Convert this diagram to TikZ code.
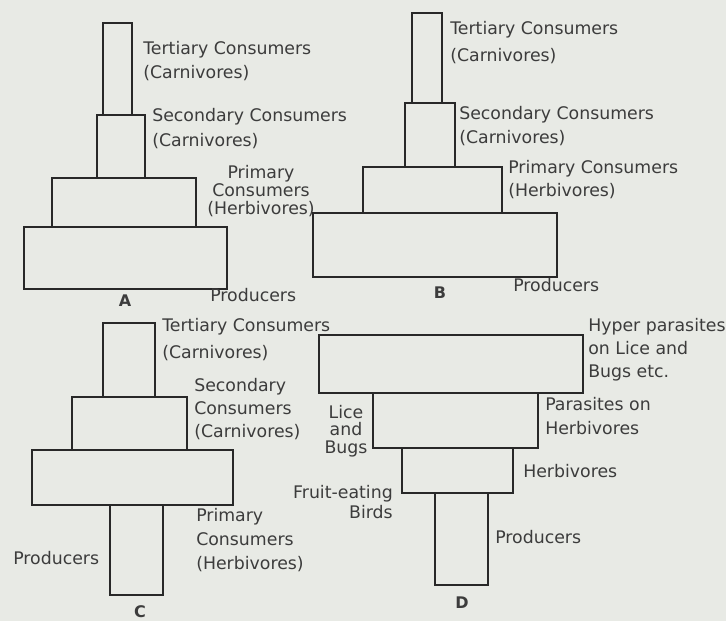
\documentclass[tikz,border=0pt]{standalone}
\usepackage{fontspec}
\setmainfont{DejaVu Sans}
\usetikzlibrary{fit}
\definecolor{paper}{RGB}{232,234,229}
\definecolor{ink}{RGB}{40,40,40}
\definecolor{txt}{RGB}{60,60,60}
\tikzset{
  pbox/.style={draw=ink, line width=1.8pt, inner sep=0pt, outer sep=0pt},
  lbl/.style={font=\fontsize{13}{#1}\selectfont, text=txt, inner sep=0pt, align=left},
  lbl/.default=18,
  tag/.style={font=\fontsize{12}{14}\selectfont\bfseries, text=txt, inner sep=0pt},
}
\begin{document}
\begin{tikzpicture}[x=0.75pt,y=-0.75pt]
\fill[paper] (0,0) rectangle (726,621);
\useasboundingbox (0,0) rectangle (726,621);

% ---------- A ----------
\node[pbox, fit={(103,23)(132,115)}] (a4) {};
\node[pbox, fit={(97,115)(145,178)}] (a3) {};
\node[pbox, fit={(52,178)(196,227)}] (a2) {};
\node[pbox, fit={(24,227)(227,289)}] (a1) {};
\node[lbl=18, anchor=north west] (la4) at (143,41) {Tertiary Consumers\\(Carnivores)};
\node[lbl=18.75, anchor=north west] (la3) at (152,108) {Secondary Consumers\\(Carnivores)};
\node[lbl=13.5, align=center, anchor=north] (la2) at (261,165) {Primary\\Consumers\\(Herbivores)};
\node[lbl, anchor=west] (la1) at (210,295) {Producers};
\node[tag] (ta) at (125,301) {A};

% ---------- B ----------
\node[pbox, fit={(412,13)(442,103)}] (b4) {};
\node[pbox, fit={(405,103)(455,167)}] (b3) {};
\node[pbox, fit={(363,167)(502,213)}] (b2) {};
\node[pbox, fit={(313,213)(557,277)}] (b1) {};
\node[lbl=20, anchor=north west] (lb4) at (450,21) {Tertiary Consumers\\(Carnivores)};
\node[lbl=18, anchor=north west] (lb3) at (459,106) {Secondary Consumers\\(Carnivores)};
\node[lbl=17.25, anchor=north west] (lb2) at (508,160) {Primary Consumers\\(Herbivores)};
\node[lbl, anchor=west] (lb1) at (513,285) {Producers};
\node[tag] (tb) at (440,293) {B};

% ---------- C ----------
\node[pbox, fit={(103,323)(155,397)}] (c4) {};
\node[pbox, fit={(72,397)(187,450)}] (c3) {};
\node[pbox, fit={(32,450)(233,505)}] (c2) {};
\node[pbox, fit={(110,505)(163,595)}] (c1) {};
\node[lbl=20, anchor=north west] (lc4) at (162,318) {Tertiary Consumers\\(Carnivores)};
\node[lbl=17.25, anchor=north west] (lc3) at (194,378) {Secondary\\Consumers\\(Carnivores)};
\node[lbl=18, anchor=north west] (lc2) at (196,508) {Primary\\Consumers\\(Herbivores)};
\node[lbl, anchor=west] (lc1) at (13,558) {Producers};
\node[tag] (tc) at (140,612) {C};

% ---------- D ----------
\node[pbox, fit={(319,335)(583,393)}] (d4) {};
\node[pbox, fit={(373,393)(538,448)}] (d3) {};
\node[pbox, fit={(402,448)(513,493)}] (d2) {};
\node[pbox, fit={(435,493)(488,585)}] (d1) {};
\node[lbl=17.25, anchor=north west] (ld4) at (588,318) {Hyper parasites\\on Lice and\\Bugs etc.};
\node[lbl=18, anchor=north west] (ld3) at (545,397) {Parasites on\\Herbivores};
\node[lbl=13, align=center, anchor=north] (lice) at (346,405) {Lice\\and\\Bugs};
\node[lbl, anchor=west] (ld2) at (523,471) {Herbivores};
\node[lbl=15, align=right, anchor=north east] (fruit) at (393,485) {Fruit-eating\\Birds};
\node[lbl, anchor=west] (ld1) at (495,537) {Producers};
\node[tag] (td) at (462,603) {D};
\end{tikzpicture}
\end{document}
